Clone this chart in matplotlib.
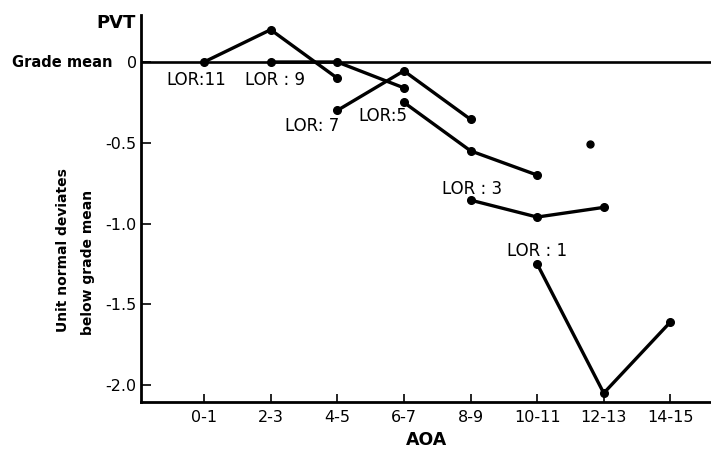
import numpy as np
import matplotlib
matplotlib.use("Agg")
import matplotlib.pyplot as plt
import matplotlib.transforms as mtransforms

# Age of arrival groups (x categories)
aoa = ['0-1', '2-3', '4-5', '6-7', '8-9', '10-11', '12-13', '14-15']
pos = np.arange(1, len(aoa) + 1)

# PVT deviates from grade mean, one short series per length of residence
lor11_x = ['0-1', '2-3', '4-5']
lor11_y = [0.0, 0.20, -0.10]
lor9_x = ['2-3', '4-5', '6-7']
lor9_y = [0.0, 0.0, -0.16]
lor7_x = ['4-5', '6-7', '8-9']
lor7_y = [-0.30, -0.055, -0.355]
lor5_x = ['6-7', '8-9', '10-11']
lor5_y = [-0.25, -0.55, -0.70]
lor3_x = ['8-9', '10-11', '12-13']
lor3_y = [-0.855, -0.96, -0.90]
lor1_x = ['10-11', '12-13', '14-15']
lor1_y = [-1.25, -2.05, -1.61]

# lone dot printed near 12-13
stray_x = [6.8]
stray_y = [-0.51]

yticks = [0, -0.5, -1.0, -1.5, -2.0]
ytick_labels = ['0', '-0.5', '-1.0', '-1.5', '-2.0']

series = [
    (lor11_x, lor11_y, 'LOR:11', 0.88, -0.111),
    (lor9_x, lor9_y, 'LOR : 9', 2.07, -0.111),
    (lor7_x, lor7_y, 'LOR: 7', 2.62, -0.396),
    (lor5_x, lor5_y, 'LOR:5', 3.69, -0.334),
    (lor3_x, lor3_y, 'LOR : 3', 5.02, -0.786),
    (lor1_x, lor1_y, 'LOR : 1', 6.0, -1.17),
]

fig = plt.figure(figsize=(7.11, 4.5), dpi=100)
ax = fig.add_axes([141 / 711, 1 - 402 / 450, 570 / 711, 387 / 450])

ax.axhline(0, color='black', lw=1.9, zorder=1)

for xs, ys, name, tx, ty in series:
    xp = [aoa.index(v) + 1 for v in xs]
    ax.plot(xp, ys, color='black', lw=2.4, marker='o', ms=5.5,
            solid_capstyle='round', zorder=3)
    ax.text(tx, ty, name, fontsize=12, ha='center', va='center')

ax.plot(stray_x, stray_y, 'o', color='black', ms=5, zorder=3)

ax.set_xlim(0.054, 8.61)
ax.set_ylim(-2.105, 0.291)

ax.set_xticks(pos)
ax.set_xticklabels(aoa, fontsize=11.5)
ax.set_yticks(yticks)
ax.set_yticklabels(ytick_labels, fontsize=11.5)
ax.tick_params(axis='x', direction='in', length=6, width=1.2, pad=6)
ax.tick_params(axis='y', direction='in', length=7, width=1.2, pad=3)

for side in ['top', 'right']:
    ax.spines[side].set_visible(False)
for side in ['left', 'bottom']:
    ax.spines[side].set_linewidth(2.0)

trans = mtransforms.blended_transform_factory(ax.transAxes, ax.transData)
ax.text(-29 / 570, 0, 'Grade mean', transform=trans, ha='right', va='center',
        fontsize=10.5, fontweight='bold')
fig.text(136 / 711, 1 - 23 / 450, 'PVT', ha='right', va='center',
         fontsize=13, fontweight='bold')

fig.text(63 / 711, 1 - 250 / 450, 'Unit normal deviates', rotation=90,
         ha='center', va='center', fontsize=10, fontweight='bold')
fig.text(88 / 711, 1 - 262 / 450, 'below grade mean', rotation=90,
         ha='center', va='center', fontsize=10, fontweight='bold')
fig.text(427 / 711, 1 - 440 / 450, 'AOA', ha='center', va='center',
         fontsize=12.5, fontweight='bold')

plt.savefig('out.png', dpi=100)
